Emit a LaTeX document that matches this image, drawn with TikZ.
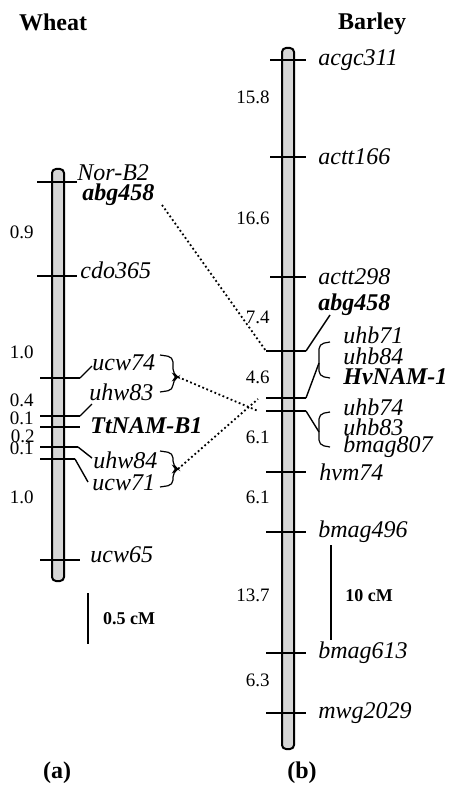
\documentclass[tikz,border=0pt]{standalone}
\usepackage{fontspec}
\setmainfont{Liberation Serif}
\begin{document}
\begin{tikzpicture}[x=0.5pt,y=-0.5pt,
  chrom/.style={draw=black,line width=1pt,fill=black!16,rounded corners=2pt},
  tck/.style={line width=1pt},
  lead/.style={line width=0.7pt},
  brc/.style={line width=0.6pt,rounded corners=2.5pt},
  dots/.style={line width=0.9pt,dash pattern=on 0.9pt off 1.3pt},
  mk/.style={anchor=west,inner sep=0pt,font=\fontsize{12}{14}\selectfont\itshape},
  mkb/.style={anchor=west,inner sep=0pt,font=\fontsize{12}{14}\selectfont\bfseries\itshape},
  dist/.style={anchor=east,inner sep=0pt,font=\fontsize{9.5}{11}\selectfont},
  ttl/.style={inner sep=0pt,font=\fontsize{12}{14}\selectfont\bfseries},
  scl/.style={inner sep=0pt,font=\fontsize{9}{11}\selectfont\bfseries}]
\useasboundingbox (0,0) rectangle (449,786);

% ---------- titles ----------
\node[ttl] (tw) at (53,22) {Wheat};
\node[ttl] (tb) at (372,24) {Barley};
\node[ttl] (la) at (57,773) {(a)};
\node[ttl] (lb) at (302,773) {(b)};

% ---------- wheat chromosome ----------
\draw[chrom] (52,169) rectangle (64,581);
\draw[tck] (37,182) -- (77,182);
\draw[tck] (37,276) -- (77,276);
\draw[tck] (40,378) -- (80,378) coordinate (w1);
\draw[tck] (40,416) -- (80,416) coordinate (w2);
\draw[tck] (40,427) -- (80,427);
\draw[tck] (40,447) -- (78,447) coordinate (w3);
\draw[tck] (40,459) -- (75,459) coordinate (w4);
\draw[tck] (40,560) -- (80,560);

\node[mk]  (norb2)  at (77,173) {Nor-B2};
\node[mkb] (wabg)   at (82,195) {abg458};
\node[mk]  (cdo)    at (80,270) {cdo365};
\node[mk]  (ucw74)  at (92,363) {ucw74};
\node[mk]  (uhw83)  at (89,392) {uhw83};
\node[mkb] (ttnam)  at (90,426) {TtNAM-B1};
\node[mk]  (uhw84)  at (93,460) {uhw84};
\node[mk]  (ucw71)  at (92,483) {ucw71};
\node[mk]  (ucw65)  at (90,555) {ucw65};

\draw[lead] (w1) -- (92,366);
\draw[lead] (w2) -- (92,404);
\draw[lead] (w3) -- (92,458);
\draw[lead] (w4) -- (88,482);

\node[dist] (d1) at (34,232) {0.9};
\node[dist] (d2) at (34,352) {1.0};
\node[dist] (d3) at (34,400) {0.4};
\node[dist] (d4) at (34,418) {0.1};
\node[dist] (d5) at (35,436) {0.2};
\node[dist] (d6) at (34,448) {0.1};
\node[dist] (d7) at (34,497) {1.0};

% wheat braces
\draw[brc] (160,355) -- (173,357) -- (173,374) -- (178,377) coordinate (bw1) -- (173,380) -- (173,390) -- (160,392);
\draw[brc] (160,451) -- (173,453) -- (173,466) -- (178,469) coordinate (bw2) -- (173,472) -- (173,485) -- (160,487);

% wheat scale
\draw[line width=1pt] (88,593) -- (88,644);
\node[scl] (s1) at (129,619) {0.5 cM};

% ---------- barley chromosome ----------
\draw[chrom] (282,48) rectangle (294,749);
\draw[tck] (270,60) -- (306,60);
\draw[tck] (270,157) -- (306,157);
\draw[tck] (270,277) -- (306,277);
\draw[tck] (266,351) coordinate (b1) -- (306,351) coordinate (b1r);
\draw[tck] (266,398) coordinate (b2) -- (306,398) coordinate (b2r);
\draw[tck] (266,411) coordinate (b3) -- (306,411) coordinate (b3r);
\draw[tck] (266,472) -- (306,472);
\draw[tck] (266,532) -- (306,532);
\draw[tck] (266,653) -- (306,653);
\draw[tck] (266,713) -- (306,713);

\node[mk]  (acgc)  at (318,60) {acgc311};
\node[mk]  (actt1) at (318,157) {actt166};
\node[mk]  (actt2) at (318,277) {actt298};
\node[mkb] (babg)  at (318,305) {abg458};
\node[mk]  (uhb71) at (343,335) {uhb71};
\node[mk]  (uhb84) at (343,356) {uhb84};
\node[mkb] (hvnam) at (343,377) {HvNAM-1};
\node[mk]  (uhb74) at (343,407) {uhb74};
\node[mk]  (uhb83) at (343,427) {uhb83};
\node[mk]  (bm807) at (343,447) {bmag807};
\node[mk]  (hvm)   at (319,472) {hvm74};
\node[mk]  (bm496) at (318,532) {bmag496};
\node[mk]  (bm613) at (318,653) {bmag613};
\node[mk]  (mwg)   at (318,713) {mwg2029};

\draw[lead] (b1r) -- (330,315);
\draw[brc] (330,342) -- (319,344) -- (319,376) -- (330,378);
\draw[lead] (b2r) -- (319,363);
\draw[brc] (330,412) -- (319,414) -- (319,445) -- (330,447);
\draw[lead] (b3r) -- (319,432);

\node[dist] (e1) at (270,97) {15.8};
\node[dist] (e2) at (270,218) {16.6};
\node[dist] (e3) at (270,317) {7.4};
\node[dist] (e4) at (270,377) {4.6};
\node[dist] (e5) at (270,437) {6.1};
\node[dist] (e6) at (270,497) {6.1};
\node[dist] (e7) at (270,595) {13.7};
\node[dist] (e8) at (270,680) {6.3};

% barley scale
\draw[line width=1pt] (331,545) -- (331,640);
\node[scl] (s2) at (369,596) {10 cM};

% ---------- dotted connectors ----------
\draw[dots] (162,205) -- (b1);
\draw[dots] (bw1) -- (258,411);
\draw[dots] (bw2) -- (258,399);
\end{tikzpicture}
\end{document}
